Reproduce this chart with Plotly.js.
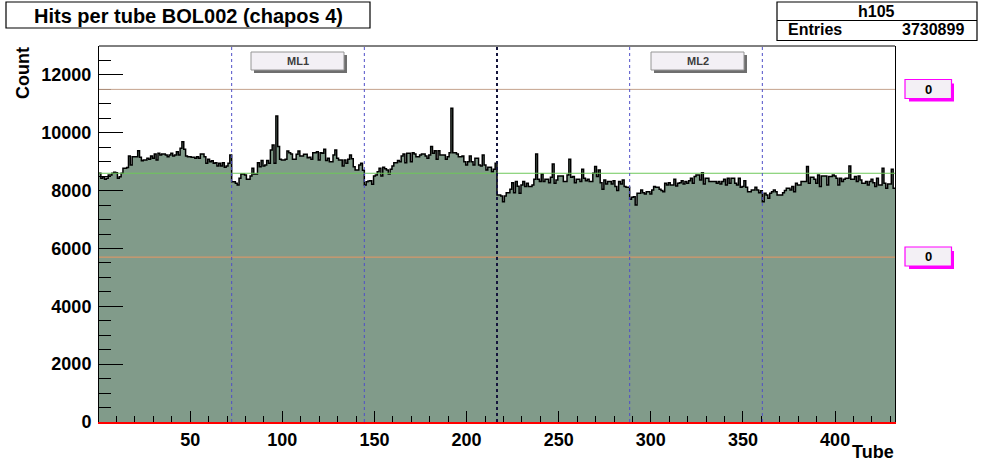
<!DOCTYPE html>
<html>
<head>
<meta charset="utf-8">
<script src="https://cdn.plot.ly/plotly-3.0.1.min.js"></script>
<style>
  html, body { margin: 0; padding: 0; background: #ffffff; }
  #chart { width: 996px; height: 472px; }
</style>
</head>
<body>
<div id="chart"></div>
<script>
// ---- data: hits per tube, 6 layers of 72 tubes ----
const layer1 = [8598,8425,8483,8391,8425,8540,8540,8598,8633,8620,8425,8483,8598,8771,8771,8800,9198,8887,9175,9175,9175,9382,9152,9036,9060,9060,9117,9083,9198,9117,9267,9060,9290,9232,9267,9267,9232,9175,9232,9290,9198,9232,9348,9232,9463,9693,9428,9198,9175,9175,9152,9152,9117,9175,9117,9267,9267,9175,8944,9083,9001,9036,8944,8967,8852,8944,8852,8967,8806,8852,8944,9232];
const layer2 = [8310,8310,8253,8195,8425,8575,8575,8541,8391,8391,8506,8771,8575,8575,8967,8829,9037,8852,8887,9037,8944,9405,9578,8944,10582,9521,9083,9060,9060,9083,9371,9313,9267,9083,9083,9256,9371,9198,9198,9256,9256,9140,9152,9083,9313,9313,9348,9060,9313,9290,9429,9037,9117,9002,9002,9233,9405,9117,9060,9060,8852,9060,8944,9083,9233,9100,8829,8714,8714,8887,8950,8700];
const layer3 = [8195,8310,8333,8345,8218,8506,8541,8656,8771,8506,8806,8760,8714,8575,8737,8852,8967,8967,9037,9002,9198,9267,8967,9290,9290,9002,9313,9267,9175,9175,9233,9267,9267,9198,9117,9233,9521,9290,9382,9083,9382,9233,9233,9233,9083,9175,9313,10847,9313,9313,9267,9175,9175,9198,9002,8887,9002,9198,9002,8887,9117,9117,8887,8852,9233,8887,8714,8806,8806,8656,8737,8944];
const layer4 = [7850,7850,7815,7619,7815,7930,7930,8046,8276,7930,8311,8150,7907,8195,8311,8138,8253,8138,8138,8195,8391,9268,8391,8311,8576,8311,8391,8391,8276,8461,8922,8253,8368,8507,8507,8507,8311,8311,8541,9083,8461,8484,8276,8391,8391,8311,8737,8426,8345,8391,8311,8311,8599,8830,8484,8714,8276,8046,8368,8230,8311,8311,8230,8345,8138,8000,8311,8230,8368,8138,8115,8115];
const layer5 = [7700,7769,7792,7504,7907,7907,8022,7930,7884,7965,7965,7884,8022,8138,8115,8115,8046,8000,7965,8253,8195,8276,8195,8195,8391,8161,8253,8276,8345,8230,8311,8253,8345,8426,8253,8484,8541,8541,8368,8622,8230,8426,8426,8311,8311,8311,8311,8253,8311,8230,8311,8391,8195,8426,8253,8426,8426,8253,8195,8426,8115,8138,8345,8115,7965,7965,8022,8022,8115,8022,7930,7999];
const layer6 = [7619,7907,7850,7734,7907,7965,8022,7965,7850,7850,7850,7930,8000,8080,8080,8022,8138,7965,8253,8195,8195,8311,8311,8311,8830,8253,8461,8461,8391,8253,8541,8138,8507,8507,8507,8195,8484,8484,8541,8507,8426,8195,8426,8311,8391,8426,8426,8853,8391,8391,8484,8311,8507,8368,8253,8253,8311,8195,8311,8391,8276,8138,8426,8195,8195,8772,8253,8080,8230,8230,8737,8080];

const layerBounds = [72.5, 144.5, 288.5, 360.5];   // layer boundaries (dotted)
const mlBound = 216.5;                               // multilayer boundary
const refLines = [11500, 8600, 5700];               // horizontal reference levels
const refColors = ['rgb(196,162,140)', 'rgb(110,200,90)', 'rgb(232,150,100)'];
const xTicks = [50, 100, 150, 200, 250, 300, 350, 400];
const yTicks = [0, 2000, 4000, 6000, 8000, 10000, 12000];
const mlLabels = ['ML1', 'ML2'];
const entries = '3730899';

const hits = [].concat(layer1, layer2, layer3, layer4, layer5, layer6);
const edges = [];
const stepY = [];
for (let i = 0; i <= hits.length; i++) {
  edges.push(i + 0.5);
  stepY.push(hits[Math.min(i, hits.length - 1)]);
}

// pixel -> paper helpers (plot area 99..895 x 46..422)
const L = 99, R = 895, T = 46, B = 422;
const PX = p => (p - L) / (R - L);
const PY = p => (B - p) / (B - T);

const FONT = 'Liberation Sans, Arial, Helvetica, sans-serif';

const trace = {
  type: 'scatter',
  mode: 'lines',
  x: edges,
  y: stepY,
  line: { shape: 'hv', color: '#000000', width: 1.5 },
  fill: 'tozeroy',
  fillcolor: 'rgb(129,155,138)',
  hoverinfo: 'skip'
};

const shapes = [];
refLines.forEach((v, k) => {
  shapes.push({ type: 'line', xref: 'paper', x0: 0, x1: 1, yref: 'y', y0: v, y1: v,
    line: { color: refColors[k], width: 1 }, layer: 'above' });
});
layerBounds.forEach(b => {
  shapes.push({ type: 'line', xref: 'x', x0: b, x1: b, yref: 'paper', y0: 0, y1: 1,
    line: { color: 'rgb(80,80,200)', width: 1, dash: 'dot' }, layer: 'above' });
});
shapes.push({ type: 'line', xref: 'x', x0: mlBound, x1: mlBound, yref: 'paper', y0: 0, y1: 1,
  line: { color: 'rgb(20,20,60)', width: 2, dash: 'dot' }, layer: 'above' });
shapes.push({ type: 'line', xref: 'paper', x0: 0, x1: 1, yref: 'paper', y0: 1, y1: 1,
  line: { color: '#000', width: 1 }, layer: 'above' });

// title box
shapes.push({ type: 'rect', xref: 'paper', yref: 'paper', x0: PX(6), x1: PX(370), y0: PY(28), y1: PY(2),
  line: { color: '#000', width: 1.2 }, fillcolor: '#fff' });
// stats box
shapes.push({ type: 'rect', xref: 'paper', yref: 'paper', x0: PX(777), x1: PX(977), y0: PY(40.5), y1: PY(2),
  line: { color: '#000', width: 1.2 }, fillcolor: '#fff' });
shapes.push({ type: 'line', xref: 'paper', yref: 'paper', x0: PX(777), x1: PX(977), y0: PY(20.5), y1: PY(20.5),
  line: { color: '#000', width: 1.2 } });

// ML label boxes
const mlBoxX = [251, 651];
mlBoxX.forEach(x0 => {
  shapes.push({ type: 'rect', xref: 'paper', yref: 'paper', x0: PX(x0 + 3), x1: PX(x0 + 96), y0: PY(73), y1: PY(55),
    line: { width: 0 }, fillcolor: 'rgb(110,110,110)', layer: 'above' });
  shapes.push({ type: 'rect', xref: 'paper', yref: 'paper', x0: PX(x0), x1: PX(x0 + 93), y0: PY(70), y1: PY(52),
    line: { color: 'rgb(150,150,150)', width: 1 }, fillcolor: 'rgb(243,240,245)', layer: 'above' });
});

// right side value boxes
const sideBoxY = [79.5, 247];
sideBoxY.forEach(y0 => {
  shapes.push({ type: 'rect', xref: 'paper', yref: 'paper', x0: PX(909), x1: PX(954), y0: PY(y0 + 22), y1: PY(y0 + 4),
    line: { width: 0 }, fillcolor: 'rgb(255,0,255)' });
  shapes.push({ type: 'rect', xref: 'paper', yref: 'paper', x0: PX(905), x1: PX(951.5), y0: PY(y0 + 19), y1: PY(y0),
    line: { color: 'rgb(255,0,255)', width: 1.2 }, fillcolor: 'rgb(243,240,245)' });
});

function ann(text, x, y, size, extra) {
  return Object.assign({ text: text, xref: 'paper', yref: 'paper', x: PX(x), y: PY(y),
    xanchor: 'center', yanchor: 'middle', showarrow: false,
    font: { family: FONT, size: size, color: '#000', weight: 'bold' } }, extra || {});
}

const annotations = [
  ann('Hits per tube BOL002 (chapos 4)', 188, 15.5, 20),
  ann('h105', 876, 11.5, 16),
  ann('Entries', 786, 30, 16, { xanchor: 'left' }),
  ann(entries, 966, 30, 16, { xanchor: 'right' }),
  ann('Count', 23, 73, 18, { textangle: -90 }),
  ann('Tube', 896, 452, 18, { xanchor: 'right' })
];
mlBoxX.forEach((x0, k) => {
  annotations.push(ann(mlLabels[k], x0 + 46.5, 61, 11, { font: { family: FONT, size: 11, color: 'rgb(60,60,60)', weight: 'bold' } }));
});
sideBoxY.forEach(y0 => {
  annotations.push(ann('0', 928, y0 + 9.5, 13));
});

const layout = {
  width: 996, height: 472,
  margin: { l: L, r: 996 - R, t: T, b: 472 - B, pad: 0 },
  paper_bgcolor: '#ffffff',
  plot_bgcolor: '#ffffff',
  showlegend: false,
  xaxis: {
    range: [0.5, 432.5], tickvals: xTicks, ticktext: xTicks.map(String),
    ticks: 'inside', ticklen: 11, tickwidth: 1, tickcolor: '#000',
    minor: { dtick: 10, tick0: 0, ticks: 'inside', ticklen: 6, tickwidth: 1, tickcolor: '#000' },
    showgrid: false, zeroline: false,
    showline: true, linecolor: 'rgb(255,0,0)', linewidth: 2,
    tickfont: { family: FONT, size: 18, color: '#000', weight: 'bold' },
    ticklabelstandoff: 0
  },
  yaxis: {
    range: [0, 13000], tickvals: yTicks, ticktext: yTicks.map(String),
    ticks: 'inside', ticklen: 24, tickwidth: 1, tickcolor: '#000',
    minor: { dtick: 500, tick0: 0, ticks: 'inside', ticklen: 12, tickwidth: 1, tickcolor: '#000' },
    showgrid: false, zeroline: false,
    showline: true, linecolor: '#000', linewidth: 1, mirror: true,
    tickfont: { family: FONT, size: 18, color: '#000', weight: 'bold' },
    ticklabelstandoff: 3
  },
  shapes: shapes,
  annotations: annotations
};

Plotly.newPlot('chart', [trace], layout, { displayModeBar: false, staticPlot: true });
</script>
</body>
</html>
